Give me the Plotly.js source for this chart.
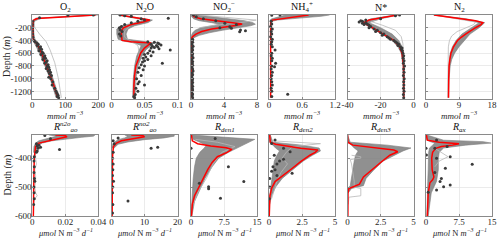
<!DOCTYPE html>
<html><head><meta charset="utf-8">
<script src="https://cdn.plot.ly/plotly-3.0.1.min.js"></script>
<style>html,body{margin:0;padding:0;background:#fff}#chart{width:500px;height:241px}</style>
</head><body><div id="chart"></div>
<script>
// ---------------- DATA (depth in m, positive down) ----------------
// O2
const o2RedD = [0,15,35,55,75,100,200,300,380,420,470,530,600,700,800,900,1000,1100,1200,1300];
const o2RedV = [192,140,70,15,5,3,2,2,3,9,16,22,28,36,43,51,58,65,71,77];
const o2BandD = [0,50,100,200,300,380,420,500,600,800,1000,1200,1300];
const o2BandLo = [185,10,1,0.5,0.5,1,4,12,22,38,54,66,72];
const o2BandHi = [200,25,6,4,5,8,15,22,32,50,63,76,82];
const o2LightD = [100,200,300,420,550,750,1000,1300];
const o2LightV = [3,8,22,42,54,68,79,88];
const o2DotD = [0,2,45,100,150,200,250,300,350,400,420,440,460,480,500,520,540,560,580,600,620,640,660,680,700,720,740,760,780,800,820,840,860,880,900,920,950,980,1000,1050,1100,1150,1200,1230,1260,1280,1300];
const o2DotV = [185,108,22,1,0.5,1,0.5,1,1.5,5,8,14,18,15,25,22,28,20,30,33,26,38,35,40,32,45,42,38,48,45,50,42,52,48,55,52,58,50,56,62,60,68,72,75,78,76,80];
// N2O
const n2oRedD = [0,40,80,110,150,200,250,300,350,400,420,440,470,520,600,700,800,950,1100,1300];
const n2oRedV = [0.012,0.035,0.058,0.048,0.03,0.018,0.015,0.015,0.015,0.016,0.03,0.06,0.056,0.05,0.044,0.04,0.037,0.035,0.034,0.034];
const n2oBandD = [0,40,80,120,170,220,300,380,410,440,480,550,650,800,1000,1300];
const n2oBandLo = [0.010,0.028,0.05,0.035,0.015,0.008,0.008,0.01,0.018,0.035,0.045,0.042,0.038,0.035,0.033,0.032];
const n2oBandHi = [0.015,0.04,0.062,0.055,0.035,0.025,0.022,0.024,0.045,0.065,0.06,0.052,0.046,0.04,0.037,0.036];
const n2oLightD = [150,250,350,420,480,600,800,1300];
const n2oLightV = [0.03,0.02,0.02,0.03,0.04,0.042,0.038,0.035];
const n2oDotD = [0,10,20,50,60,80,100,120,150,180,200,230,260,300,330,420,430,440,450,460,470,480,490,500,510,520,530,550,560,580,600,620,640,660,680,700,720,740,760,780,800,830,860,900,950,1000,1050,1080,1100,1150,1200,1250,1280,1300];
const n2oDotV = [0.013,0.02,0.03,0.086,0.045,0.05,0.04,0.03,0.02,0.015,0.012,0.013,0.016,0.012,0.014,0.055,0.065,0.07,0.072,0.06,0.075,0.068,0.062,0.07,0.065,0.06,0.072,0.089,0.058,0.063,0.055,0.05,0.06,0.052,0.048,0.055,0.05,0.047,0.077,0.045,0.05,0.042,0.048,0.04,0.045,0.038,0.042,0.04,0.05,0.037,0.04,0.036,0.034,0.035];
// NO2-
const no2RedD = [0,30,60,90,115,140,165,190,220,260,300,340,370,400,1300];
const no2RedV = [0.2,0.4,1.2,3.0,5.0,6.2,5.4,3.8,2.5,1.3,0.6,0.2,0.05,0.02,0.02];
const no2BandD = [0,30,60,90,120,145,170,200,240,280,320,360,400];
const no2BandLo = [0,0.1,0.3,1.0,2.5,3.5,2.5,1.2,0.5,0.2,0.05,0,0];
const no2BandHi = [0.8,2.5,4.5,6.5,7.5,7.8,7.2,5.8,3.8,2.2,1.0,0.3,0.05];
const no2LightD = [0,40,80,120,160,200];
const no2LightV = [1,5,7.9,6,3,1];
const no2DotD = [0,26,60,90,131,150,183,200,209,236,246,262,380,400,430,460,490,520,550,580,610,640,670,700,730,760,790,820,850,880,910,940,970,1000,1030,1060,1090,1120,1150,1180,1210,1240,1270,1300];
const no2DotV = [0.3,0.64,1.5,3.0,4.1,5.5,4.7,3.5,4.9,6.0,6.6,5.9,0.2,0.15,0.2,0.1,0.25,0.15,0.2,0.1,0.2,0.15,0.25,0.1,0.2,0.15,0.2,0.1,0.2,0.25,0.15,0.2,0.1,0.2,0.15,0.2,0.1,0.2,0.15,0.2,0.1,0.2,0.15,0.2];
// NH4+
const nh4RedD = [0,20,40,60,80,120,1300];
const nh4RedV = [0.72,0.55,0.35,0.18,0.06,0.03,0.03];
const nh4BandD = [0,20,40,60,80,100];
const nh4BandLo = [0.3,0.2,0.1,0.05,0.02,0.02];
const nh4BandHi = [1.1,0.95,0.7,0.4,0.15,0.05];
const nh4DotD = [0,5,100,140,180,220,260,300,340,380,420,460,500,550,600,640,680,720,760,800,812,850,900,950,1000,1050,1100,1150,1200,1246,1280];
const nh4DotV = [0.2,0.05,0.04,0.05,0.03,0.06,0.04,0.05,0.03,0.06,0.05,0.04,0.06,0.11,0.05,0.04,0.06,0.05,0.12,0.05,0.1,0.04,0.06,0.05,0.04,0.05,0.06,0.04,0.05,0.34,0.05];
// N*
const nstRedD = [0,40,80,120,160,200,250,300,350,400,450,500,600,700,800,1000,1300];
const nstRedV = [-10,-18,-27,-30,-28,-25,-21.5,-18,-15,-12,-10,-8.5,-7,-6.4,-6.1,-6.0,-6.0];
const nstBandD = [0,60,120,200,300,400,500,600,800,1000,1300];
const nstBandLo = [-11,-26,-31,-26,-19,-13,-9.5,-7.5,-6.5,-6.3,-6.3];
const nstBandHi = [-9,-20,-27,-20,-13,-9,-7,-6,-5.6,-5.6,-5.7];
const nstLightD = [60,100,160,240,340,450,600,800,1300];
const nstLightV = [-20,-26,-19,-11,-7.5,-6.5,-6.2,-6,-6];
const nstDotD = [0,10,60,80,90,100,110,120,130,140,150,160,180,200,220,240,260,280,300,320,340,360,380,400,420,440,460,480,500,520,540,560,600,640,680,720,760,800,850,900,950,1000,1050,1100,1150,1200,1250,1300];
const nstDotV = [-8.5,-11,-20,-29,-32,-31,-33,-29,-31,-28,-30,-27,-26,-27,-24,-22,-23,-20,-18,-19,-16,-15,-14,-12,-11,-10,-9,-9.5,-8,-7,-7.5,-6.8,-6.5,-6,-6.3,-5.8,-6.2,-5.5,-6,-5.8,-6.2,-5.7,-6,-5.9,-6.1,-5.8,-6.2,-6];
// N2
const n2RedD = [0,30,60,90,120,150,200,250,300,350,400,500,600,700,800,1000,1300];
const n2RedV = [2.2,6,10,13.5,15.5,15,13.5,12,10.8,9.6,8.6,7.5,6.8,6.5,6.3,6.2,6.15];
const n2BandD = [0,60,120,200,300,400,500,600,700,800,1000,1300];
const n2BandLo = [2,9.5,14.5,12.5,9.8,8.2,7.2,6.6,6.4,6.2,6.1,6.1];
const n2BandHi = [2.5,11,16,14.5,12,10.5,9,7.8,7.0,6.6,6.3,6.2];
const n2LightD = [0,60,110,150,200,260,330,400,500,700,1300];
const n2LightV = [2.2,9,13.5,13,11,8.5,7,6.4,6.1,6,5.9];
// R_ao^n2o
const r1RedD = [320,322,326,332,340,348,360,380,400,450,500,600];
const r1RedV = [0.014,0.02,0.021,0.016,0.009,0.004,0.002,0.0015,0.0012,0.001,0.0008,0.0006];
const r1BandD = [320,324,328,334,340,348,360,380];
const r1BandLo = [0.01,0.015,0.012,0.008,0.004,0.002,0.001,0.0008];
const r1BandHi = [0.038,0.037,0.03,0.02,0.012,0.006,0.003,0.002];
const r1LightD = [380,400,420,440,460,480,500,520,530,540,560,600];
const r1LightV = [0.002,0.002,0.0025,0.0015,0.002,0.002,0.0015,0.002,0.003,0.0015,0.001,0.0008];
const r1DotD = [322,333,350,355,358,362,366,370,375,380,395,410,430,450,470,480,500,520,540,560];
const r1DotV = [0.0076,0.011,0.0025,0.004,0.003,0.005,0.0035,0.0165,0.003,0.0025,0.0012,0.001,0.0012,0.001,0.0013,0.0015,0.001,0.0011,0.0012,0.0008];
// R_ao^no2
const r2RedD = [320,322,326,332,340,348,360,380,400,500,600];
const r2RedV = [6,9.5,10,7,3,1.5,0.6,0.4,0.3,0.25,0.2];
const r2BandD = [320,324,330,336,344,352,365];
const r2BandLo = [4,5,4,2,1,0.4,0.2];
const r2BandHi = [19,19,16,10,5,2,0.8];
const r2DotD = [330,340,350,362,366,380,400,420,440,460,480,500,520,548,560,590];
const r2DotV = [2,0.5,0.8,14,12,0.5,0.3,0.5,0.4,0.3,0.6,0.4,0.3,5,0.4,0.3];
// R_den1
const r3RedD = [320,340,350,358,364,370,380,395,415,440,470,500,530,560,600];
const r3RedV = [0.1,0.3,1.5,4.5,8,9.3,8.2,6,4.8,3.8,2.8,1.8,0.8,0.3,0.1];
const r3BandD = [320,335,345,355,365,380,400,430,470,510,550,600];
const r3BandLo = [0,0.5,2,3.5,3,2,1.2,0.8,0.5,0.3,0.1,0];
const r3BandHi = [0.3,14.5,13,11.5,10.5,8.5,6.3,4.8,3.2,2.0,0.8,0.2];
const r3LightD = [335,345,360,380,420,470,520,560];
const r3LightV = [1,6,10,7,5,3.5,1.5,0.5];
const r3DotD = [332,366,430,481,487,499,506,539];
const r3DotV = [5.5,0,8.5,12,1.9,4,4,6.7];
// R_den2
const r4RedD = [320,345,352,360,366,372,380,390,412,441,458,481,504,530,600];
const r4RedV = [0.05,0.1,0.5,1.5,2.4,3.7,3.5,3.1,2.4,1.6,1.1,0.46,0.2,0.07,0.02];
const r4BandD = [320,345,355,365,375,390,410,440,470,500,530,560];
const r4BandLo = [0,0.05,0.3,0.5,0.8,0.6,0.4,0.3,0.2,0.1,0.05,0];
const r4BandHi = [0.1,0.3,2.5,3.8,3.9,3.3,2.6,1.8,1.0,0.5,0.2,0.05];
const r4LightD = [340,350,360,380,400,420,450,480,510,540];
const r4LightV = [0.2,3.9,1.8,1.3,1.0,1.4,0.9,0.6,0.4,0.2];
const r4DotD = [337,349,366,378,390,404,410,420,430,440,445,452,460,470,500,540];
const r4DotV = [0.46,0.2,1.1,1.6,0.4,1.1,0.8,0.6,0.3,0.46,0.2,1.75,0.6,0.05,0.05,0.02];
// R_den3
const r5RedD = [320,345,355,365,372,378,390,415,440,465,490,498,505,520,600];
const r5RedV = [0,0.02,0.4,2,3.5,3.8,3.2,2.5,1.85,1.2,0.9,0.5,0.1,0.03,0.02];
const r5BandD = [320,345,355,365,375,390,410,440,470,495,505,520];
const r5BandLo = [0,0,0.3,0.5,0.8,0.6,0.5,0.4,0.3,0.2,0,0];
const r5BandHi = [0,0.2,3,4.8,4.2,3.5,2.7,2.0,1.4,1.2,0.3,0.05];
const r5LightD = [390,395,400,405,420,480,500,505,530,535,560];
const r5LightV = [0.3,1.0,1.0,0.2,0.3,0.5,0.5,1.0,1.0,0.1,0.05];
// R_ax
const r6RedD = [320,338,345,350,355,360,366,380,400,440,465,475,485,520,600];
const r6RedV = [0.1,0.3,3,7.5,6,3.5,2.2,1.5,1.3,1.4,1.8,1.5,0.9,0.5,0.3];
const r6BandD = [320,338,343,348,355,365,380,400,440,480,520,560,600];
const r6BandLo = [0,0.2,1,2,1.5,0.8,0.6,0.6,0.5,0.4,0.3,0.2,0.2];
const r6BandHi = [0.2,4,13,14.8,9,4,3,2.8,2.8,2.4,1.2,0.8,0.5];
const r6LightD = [366,380,395,410,430];
const r6LightV = [2,3.5,5,3,2];
const r6DotD = [337,360,366,366,389,395,400,421,435,450,470,481,493,499,510,518];
const r6DotV = [2.4,4.8,0,2,0.1,5.5,2.4,10.5,4.4,2,3.5,3.2,5.5,4,2.4,0.5];

// tick values / labels
const topDepthTicks = [-1200,-1000,-800,-600,-400,-200];
const botDepthTicks = [-600,-500,-400];
const titlesTop = ['O<sub>2</sub>','N<sub>2</sub>O','NO<sub>2</sub><sup>−</sup>','NH<sub>4</sub><sup>+</sup>','N*','N<sub>2</sub>'];
const titlesBot = ['<i>R</i><sup><i>n2o</i></sup><sub><i>ao</i></sub>','<i>R</i><sup><i>no2</i></sup><sub><i>ao</i></sub>','<i>R</i><sub><i>den1</i></sub>','<i>R</i><sub><i>den2</i></sub>','<i>R</i><sub><i>den3</i></sub>','<i>R</i><sub><i>ax</i></sub>'];
const xTicksTop = [[0,100,200],[0,0.05,0.1],[0,4,8],[0,0.6,1.2],[-40,-20,0],[0,9,18]];
const xTicksBot = [[0,0.02,0.04],[0,10,20],[0,7.5,15],[0,2.5,5],[0,2.5,5],[0,7.5,15]];

const panels = [
  {rd:o2RedD,rv:o2RedV,bd:o2BandD,bl:o2BandLo,bh:o2BandHi,ld:o2LightD,lv:o2LightV,dd:o2DotD,dv:o2DotV},
  {rd:n2oRedD,rv:n2oRedV,bd:n2oBandD,bl:n2oBandLo,bh:n2oBandHi,ld:n2oLightD,lv:n2oLightV,dd:n2oDotD,dv:n2oDotV},
  {rd:no2RedD,rv:no2RedV,bd:no2BandD,bl:no2BandLo,bh:no2BandHi,ld:no2LightD,lv:no2LightV,dd:no2DotD,dv:no2DotV},
  {rd:nh4RedD,rv:nh4RedV,bd:nh4BandD,bl:nh4BandLo,bh:nh4BandHi,dd:nh4DotD,dv:nh4DotV},
  {rd:nstRedD,rv:nstRedV,bd:nstBandD,bl:nstBandLo,bh:nstBandHi,ld:nstLightD,lv:nstLightV,dd:nstDotD,dv:nstDotV},
  {rd:n2RedD,rv:n2RedV,bd:n2BandD,bl:n2BandLo,bh:n2BandHi,ld:n2LightD,lv:n2LightV},
  {rd:r1RedD,rv:r1RedV,bd:r1BandD,bl:r1BandLo,bh:r1BandHi,ld:r1LightD,lv:r1LightV,dd:r1DotD,dv:r1DotV},
  {rd:r2RedD,rv:r2RedV,bd:r2BandD,bl:r2BandLo,bh:r2BandHi,dd:r2DotD,dv:r2DotV},
  {rd:r3RedD,rv:r3RedV,bd:r3BandD,bl:r3BandLo,bh:r3BandHi,ld:r3LightD,lv:r3LightV,dd:r3DotD,dv:r3DotV},
  {rd:r4RedD,rv:r4RedV,bd:r4BandD,bl:r4BandLo,bh:r4BandHi,ld:r4LightD,lv:r4LightV,dd:r4DotD,dv:r4DotV},
  {rd:r5RedD,rv:r5RedV,bd:r5BandD,bl:r5BandLo,bh:r5BandHi,ld:r5LightD,lv:r5LightV},
  {rd:r6RedD,rv:r6RedV,bd:r6BandD,bl:r6BandLo,bh:r6BandHi,ld:r6LightD,lv:r6LightV,dd:r6DotD,dv:r6DotV}
];

// ---------------- LAYOUT ----------------
const W = 500, H = 241;
const colLeft = [32.3,111.5,191,269,347.6,426];
const colW = 66;
const rowTop = [[15,99],[135,216]];
const FONT = 'Liberation Serif, DejaVu Serif, serif';
const neg = v => -v;

const traces = [];
const layout = {
  width: W, height: H, margin:{l:0,r:0,t:0,b:0},
  paper_bgcolor:'#fff', plot_bgcolor:'#fff', showlegend:false,
  font:{family:FONT, size:9, color:'#262626'},
  annotations: []
};

panels.forEach((p,i)=>{
  const row = i<6?0:1, col = i%6;
  const n = i+1, xs = n===1?'':String(n);
  const xa = 'x'+xs, ya = 'y'+xs;
  const ticks = row===0 ? xTicksTop[col] : xTicksBot[col];
  traces.push({type:'scatter',mode:'lines',xaxis:xa,yaxis:ya,
    x:p.bl.concat(p.bh.slice().reverse()),
    y:p.bd.concat(p.bd.slice().reverse()).map(neg),
    fill:'toself',fillcolor:'rgba(120,120,120,0.82)',line:{color:'#7d7d7d',width:0.6},hoverinfo:'skip'});
  if(p.ld) traces.push({type:'scatter',mode:'lines',xaxis:xa,yaxis:ya,x:p.lv,y:p.ld.map(neg),
    line:{color:'#b8b8b8',width:0.8}});
  traces.push({type:'scatter',mode:'lines',xaxis:xa,yaxis:ya,x:p.rv,y:p.rd.map(neg),
    line:{color:'#ff0000',width:1.5}});
  if(p.dd) traces.push({type:'scatter',mode:'markers',xaxis:xa,yaxis:ya,x:p.dv,y:p.dd.map(neg),
    marker:{size:3,color:'#3a3a3a',line:{width:0}}});

  const x0 = colLeft[col], x1 = colLeft[col]+colW;
  const [t,b] = rowTop[row];
  layout['xaxis'+xs] = {domain:[x0/W,x1/W], anchor:ya, range:[ticks[0],ticks[2]],
    tickvals:ticks, ticktext:ticks.map(v=>String(v)), showgrid:true, gridcolor:'#e3e3e3', gridwidth:0.7,
    zeroline:false, showline:true, mirror:true, linecolor:'#8a8a8a', linewidth:1,
    ticks:'inside', ticklen:2, tickcolor:'#8a8a8a', ticklabelstandoff:-3,
    tickfont:{family:FONT,size:9,color:'#262626'}, fixedrange:true};
  layout['yaxis'+xs] = {domain:[1-b/H,1-t/H], anchor:xa,
    range: row===0?[-1320,0]:[-600,-320],
    tickvals: row===0?topDepthTicks:botDepthTicks,
    ticktext: (row===0?topDepthTicks:botDepthTicks).map(v=>String(v)),
    showticklabels: col===0, showgrid:true, gridcolor:'#e3e3e3', gridwidth:0.7,
    zeroline:false, showline:true, mirror:true, linecolor:'#8a8a8a', linewidth:1,
    ticks:'inside', ticklen:2, tickcolor:'#8a8a8a', ticklabelstandoff:-2,
    tickfont:{family:FONT,size:9,color:'#262626'}, fixedrange:true};

  const cx = (x0+x1)/2/W;
  layout.annotations.push({xref:'paper',yref:'paper',x:cx,y:1-(row===0?7:127)/H,
    text: row===0?titlesTop[col]:titlesBot[col], showarrow:false, xanchor:'center', yanchor:'middle',
    font:{family:FONT,size:10,color:'#111'}});
  layout.annotations.push({xref:'paper',yref:'paper',x:cx,y:1-(row===0?115:232)/H,
    text: row===0?'<i>mmol m<sup>−3</sup></i>':'<i>μmol</i> N <i>m<sup>−3</sup> d<sup>−1</sup></i>',
    showarrow:false, xanchor:'center', yanchor:'middle', font:{family:FONT,size:row===0?9:8.5,color:'#262626'}});
  if(col===0){
    layout.annotations.push({xref:'paper',yref:'paper',x:7/W,y:1-((t+b)/2)/H,textangle:-90,
      text:'Depth (<i>m</i>)',showarrow:false,xanchor:'center',yanchor:'middle',
      font:{family:FONT,size:10,color:'#262626'}});
  }
});

Plotly.newPlot('chart', traces, layout, {staticPlot:true, displayModeBar:false});
</script></body></html>
